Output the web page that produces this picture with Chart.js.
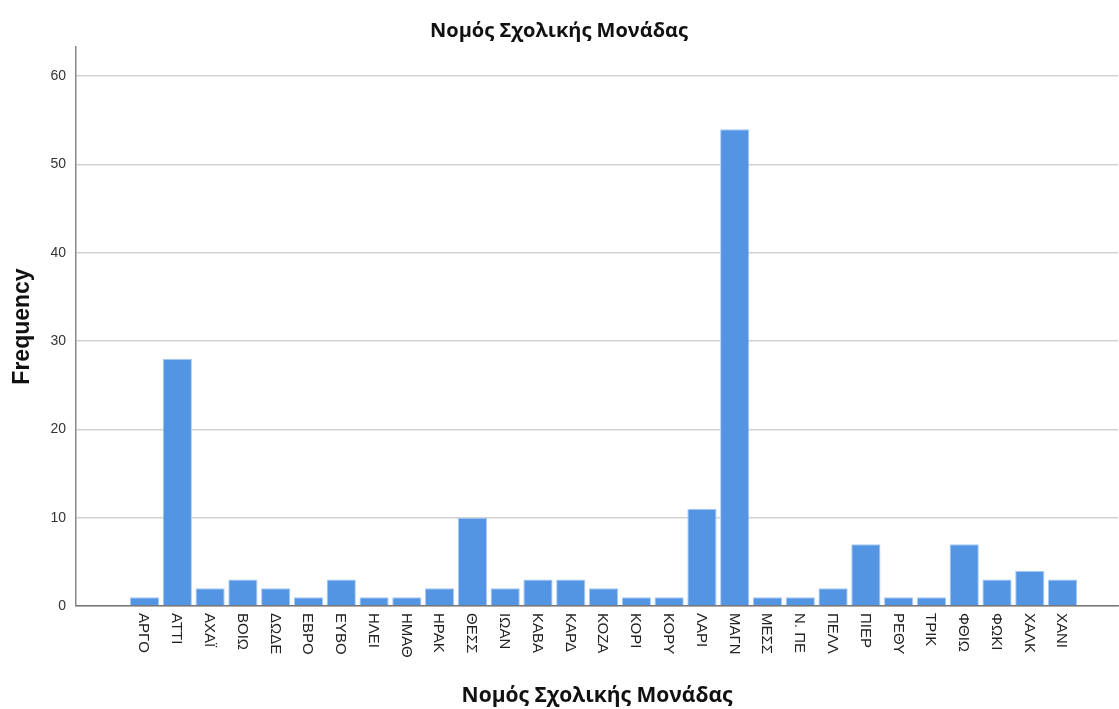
<!DOCTYPE html>
<html>
<head>
<meta charset="utf-8">
<script src="https://cdn.jsdelivr.net/npm/chart.js@4/dist/chart.umd.min.js"></script>
<style>
  html, body { margin: 0; padding: 0; background: #fff; }
  #wrap { width: 1119px; height: 709px; }
</style>
</head>
<body>
<div id="wrap"><canvas id="freqChart"></canvas></div>
<script>
// categories (prefecture codes) and their frequencies
const categories = ["ΑΡΓΟ", "ΑΤΤΙ", "ΑΧΑΪ", "ΒΟΙΩ", "ΔΩΔΕ", "ΕΒΡΟ", "ΕΥΒΟ", "ΗΛΕΙ", "ΗΜΑΘ", "ΗΡΑΚ",
  "ΘΕΣΣ", "ΙΩΑΝ", "ΚΑΒΑ", "ΚΑΡΔ", "ΚΟΖΑ", "ΚΟΡΙ", "ΚΟΡΥ", "ΛΑΡΙ", "ΜΑΓΝ", "ΜΕΣΣ",
  "Ν. ΠΕ", "ΠΕΛΛ", "ΠΙΕΡ", "ΡΕΘΥ", "ΤΡΙΚ", "ΦΘΙΩ", "ΦΩΚΙ", "ΧΑΛΚ", "ΧΑΝΙ"];
const frequencies = [1, 28, 2, 3, 2, 1, 3, 1, 1, 2,
  10, 2, 3, 3, 2, 1, 1, 11, 54, 1,
  1, 2, 7, 1, 1, 7, 3, 4, 3];
const yTicks = [0, 10, 20, 30, 40, 50, 60];

const chartTitle = "Νομός Σχολικής Μονάδας";
const yTitle = "Frequency";

//Vertical category labels, reading top to bottom
const verticalLabels = {
  id: "verticalLabels",
  afterDraw(chart) {
    const x = chart.scales.x;
    const ctx = chart.ctx;
    ctx.save();
    ctx.font = "15px 'Liberation Sans', Arial, sans-serif";
    ctx.fillStyle = "#222";
    ctx.textAlign = "left";
    ctx.textBaseline = "middle";
    categories.forEach((label, i) => {
      ctx.save();
      ctx.translate(x.getPixelForValue(i) - 1, x.top + 7);
      ctx.rotate(Math.PI / 2);
      ctx.fillText(label, 0, 0);
      ctx.restore();
    });
    ctx.restore();
  }
};

const ctx = document.getElementById("freqChart").getContext("2d");

new Chart(ctx, {
  type: "bar",
  data: {
    datasets: [{
      label: yTitle,
      data: frequencies.map((v, i) => ({ x: i, y: v })),
      backgroundColor: "#5394e3",
      borderColor: "#a9c9f2",
      borderWidth: 1,
      categoryPercentage: 1,
      barPercentage: 0.89
    }]
  },
  options: {
    responsive: true,
    maintainAspectRatio: false,
    animation: false,
    layout: { padding: { left: 0, right: 1, top: 0, bottom: 0 } },
    plugins: {
      legend: { display: false },
      tooltip: { enabled: false },
      title: {
        display: true,
        text: chartTitle,
        color: "#111",
        font: { family: "'Open Sans', sans-serif", size: 20, weight: "bold" },
        padding: { top: 19, bottom: 4 }
      }
    },
    scales: {
      x: {
        type: "linear",
        offset: false,
        min: -2.09,
        max: 29.69,
        afterFit: scale => { scale.height = 103; },
        grid: { display: false, drawTicks: false },
        border: { display: true, color: "#777", width: 1.5 },
        ticks: { display: false },
        title: {
          display: true,
          text: chartTitle,
          color: "#111",
          font: { family: "'Open Sans', sans-serif", size: 21, weight: "bold" },
          padding: { top: 0, bottom: 0 }
        }
      },
      y: {
        min: 0,
        max: 63.3,
        afterFit: scale => { scale.width = 76; },
        afterBuildTicks: scale => {
          scale.ticks = yTicks.map(v => ({ value: v }));
        },
        grid: { color: "#d2d2d2", lineWidth: 1.5, drawTicks: false },
        border: { display: true, color: "#888", width: 1.5 },
        ticks: {
          color: "#333",
          padding: 10,
          font: { family: "'Liberation Sans', Arial, sans-serif", size: 14 }
        },
        title: {
          display: true,
          text: yTitle,
          color: "#111",
          font: { family: "'Liberation Sans', Arial, sans-serif", size: 23, weight: "bold" },
          padding: { top: 9, bottom: 0 }
        }
      }
    }
  },
  plugins: [verticalLabels]
});
</script>
</body>
</html>
